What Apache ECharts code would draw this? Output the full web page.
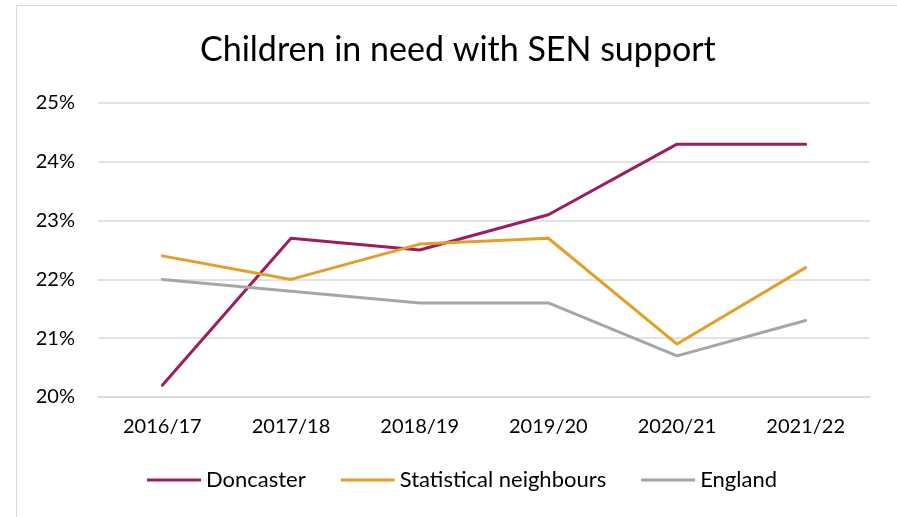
<!DOCTYPE html>
<html>
<head>
<meta charset="utf-8">
<script src="https://cdn.jsdelivr.net/npm/echarts@6/dist/echarts.min.js"></script>
<style>
  html, body { margin: 0; padding: 0; background: #fff; }
  #frame { position: absolute; left: 16px; top: 5px; width: 900px; height: 530px; border: 1.5px solid #d9d9d9; box-sizing: border-box; }
  #chart { position: absolute; left: 0; top: 0; width: 897px; height: 517px; }
</style>
</head>
<body>
<div id="frame"></div>
<div id="chart"></div>
<script>
const years = ['2016/17', '2017/18', '2018/19', '2019/20', '2020/21', '2021/22'];
const doncaster = [20.2, 22.7, 22.5, 23.1, 24.3, 24.3];
const statNeighbours = [22.4, 22.0, 22.6, 22.7, 20.9, 22.2];
const england = [22.0, 21.8, 21.6, 21.6, 20.7, 21.3];

const font = 'Lato, "Open Sans", sans-serif';
const chart = echarts.init(document.getElementById('chart'));

function lineSeries(name, data, color) {
  return {
    name, type: 'line', data,
    symbol: 'none',
    lineStyle: { width: 3, color, cap: 'round', join: 'round' },
    itemStyle: { color }
  };
}

chart.setOption({
  animation: false,
  backgroundColor: 'transparent',
  title: {
    text: 'Children in need with SEN support',
    left: 195, top: 28,
    textStyle: { fontFamily: font, fontSize: 34, fontWeight: 'normal', color: '#000' }
  },
  grid: { left: 98, right: 27, top: 103, bottom: 120 },
  legend: {
    top: 469, left: 147, padding: 0,
    itemWidth: 54, itemHeight: 3, itemGap: 35,
    icon: 'rect',
    textStyle: { fontFamily: font, fontSize: 22, color: '#000' },
    data: ['Doncaster', 'Statistical neighbours', 'England']
  },
  xAxis: {
    type: 'category', data: years, boundaryGap: true,
    axisLine: { show: true, lineStyle: { color: '#d9d9d9', width: 1.5 } },
    axisTick: { show: false },
    axisLabel: { fontFamily: font, fontSize: 20, color: '#000', margin: 20 }
  },
  yAxis: {
    type: 'value', min: 20, max: 25, interval: 1,
    axisLine: { show: false }, axisTick: { show: false },
    splitLine: { lineStyle: { color: '#d9d9d9', width: 1.5 } },
    axisLabel: { fontFamily: font, fontSize: 20, color: '#000', margin: 23, formatter: v => v + '%' }
  },
  series: [
    lineSeries('Doncaster', doncaster, '#9e1c60'),
    lineSeries('Statistical neighbours', statNeighbours, '#e29f2a'),
    lineSeries('England', england, '#a6a6a6')
  ]
});
</script>
</body>
</html>
